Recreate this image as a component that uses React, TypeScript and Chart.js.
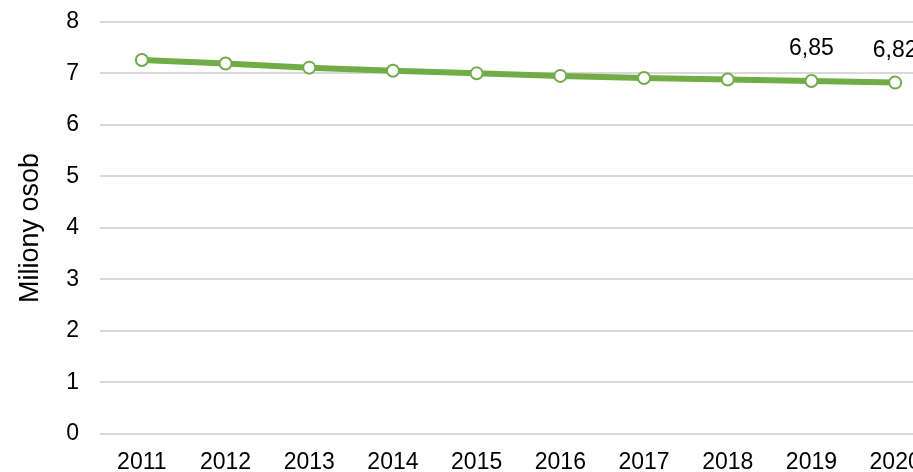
import React, { useEffect, useRef } from "react";
import { Chart, registerables } from "chart.js";

Chart.register(...registerables);

const years = ["2011", "2012", "2013", "2014", "2015", "2016", "2017", "2018", "2019", "2020"];
const population = [7.26, 7.19, 7.11, 7.05, 7.0, 6.95, 6.91, 6.88, 6.85, 6.82];
const labelledIndices = [8, 9];
const yTicks = [0, 1, 2, 3, 4, 5, 6, 7, 8];
const yTitle = "Miliony osob";

const FONT = "'Liberation Sans', Arial, sans-serif";

const dataLabelPlugin = {
  id: "dataLabels",
  afterDatasetsDraw(chart: any) {
    const ctx = chart.ctx;
    const meta = chart.getDatasetMeta(0);
    ctx.save();
    ctx.font = `23px ${FONT}`;
    ctx.fillStyle = "#000000";
    ctx.textAlign = "center";
    ctx.textBaseline = "middle";
    labelledIndices.forEach((i) => {
      const pt = meta.data[i];
      const txt = population[i].toFixed(2).replace(".", ",");
      ctx.fillText(txt, pt.x, pt.y - 32);
    });
    ctx.restore();
  },
};

export default function App() {
  const ref = useRef<HTMLCanvasElement | null>(null);
  useEffect(() => {
    if (!ref.current) return;
    const chart = new Chart(ref.current, {
      type: "line",
      data: {
        labels: years,
        datasets: [
          {
            data: population,
            borderColor: "#70AD47",
            borderWidth: 6,
            pointRadius: 6,
            pointBorderWidth: 2,
            pointBackgroundColor: "#ffffff",
            pointBorderColor: "#70AD47",
            tension: 0,
          },
        ],
      },
      options: {
        animation: false,
        responsive: false,
        maintainAspectRatio: false,
        layout: { padding: { top: 7, right: 8, left: 0, bottom: 0 } },
        plugins: {
          legend: { display: false },
          tooltip: { enabled: false },
        },
        scales: {
          x: {
            offset: true,
            grid: { display: false },
            border: { display: false },
            ticks: {
              color: "#000000",
              font: { family: FONT, size: 23 },
              padding: 7,
              maxRotation: 0,
              autoSkip: false,
            },
            afterFit(scale: any) {
              scale.height = 46;
            },
          },
          y: {
            min: 0,
            max: 8,
            afterBuildTicks(scale: any) {
              scale.ticks = yTicks.map((v) => ({ value: v }));
            },
            grid: { color: "#d9d9d9", lineWidth: 2, drawTicks: false },
            border: { display: false },
            ticks: {
              color: "#000000",
              font: { family: FONT, size: 23 },
              padding: 21,
            },
            title: {
              display: true,
              text: yTitle,
              color: "#000000",
              font: { family: FONT, size: 27 },
              padding: { top: 14, bottom: 0 },
            },
            afterFit(scale: any) {
              scale.width = 100;
            },
          },
        },
      },
      plugins: [dataLabelPlugin],
    });
    return () => chart.destroy();
  }, []);

  return (
    <div
      style={{
        position: "fixed",
        left: 0,
        top: 0,
        width: 913,
        height: 472,
        overflow: "hidden",
        background: "#ffffff",
      }}
    >
      <canvas
        ref={ref}
        width={945}
        height={493}
        style={{ display: "block", position: "absolute", left: 0, top: -13, width: 945, height: 493 }}
      />
    </div>
  );
}
